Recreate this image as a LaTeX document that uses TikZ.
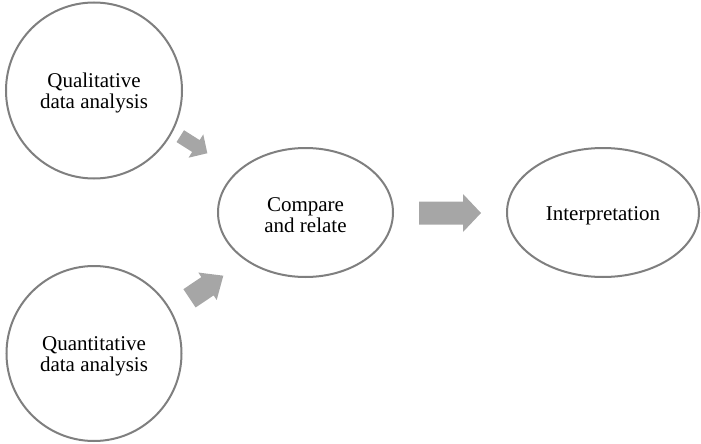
\documentclass[tikz,border=0pt]{standalone}
\usepackage{fontspec}
\setmainfont{Liberation Serif}
\usetikzlibrary{shapes.geometric}
\definecolor{outlinegray}{HTML}{7F7F7F}
\definecolor{arrowgray}{HTML}{A6A6A6}
\tikzset{
  bubble/.style={draw=outlinegray, line width=2pt, fill=white, inner sep=0pt,
    align=center, text height=20pt, font=\fontsize{21}{21}\selectfont},
  twolines/.style={text height=41pt},
  roundbubble/.style={bubble, circle, minimum size=#1},
  ovalbubble/.style n args={2}{bubble, ellipse, minimum width=#1, minimum height=#2},
  pics/blockarrow/.style n args={4}{code={
    % #1 length, #2 shaft width, #3 head width, #4 head length
    \fill[arrowgray] ({-#1/2},{-#2/2}) -- ({#1/2-#4},{-#2/2}) -- ({#1/2-#4},{-#3/2})
      -- ({#1/2},0) -- ({#1/2-#4},{#3/2}) -- ({#1/2-#4},{#2/2}) -- ({-#1/2},{#2/2}) -- cycle;
  }}
}
\begin{document}
\begin{tikzpicture}[x=1pt,y=-1pt]
\useasboundingbox (0,0) rectangle (701,444);
\node[roundbubble=176, twolines] (qual) at (94,90.5) {Qualitative\\data analysis};
\node[roundbubble=175, twolines] (quant) at (94,353.5) {Quantitative\\data analysis};
\node[ovalbubble={175}{129}, twolines] (cmp) at (305.5,212.5) {Compare\\and relate};
\node[ovalbubble={192}{129}] (interp) at (603,212.5) {Interpretation};
\coordinate (a1) at (193.8,144.7);
\coordinate (a2) at (206.4,287);
\coordinate (a3) at (450,213);
\pic[rotate=-32.3] at (a1) {blockarrow={32}{14}{27.6}{13.5}};
\pic[rotate=33.8] at (a2) {blockarrow={40.7}{22}{33}{19}};
\pic at (a3) {blockarrow={62}{23}{38}{18}};
\end{tikzpicture}
\end{document}
